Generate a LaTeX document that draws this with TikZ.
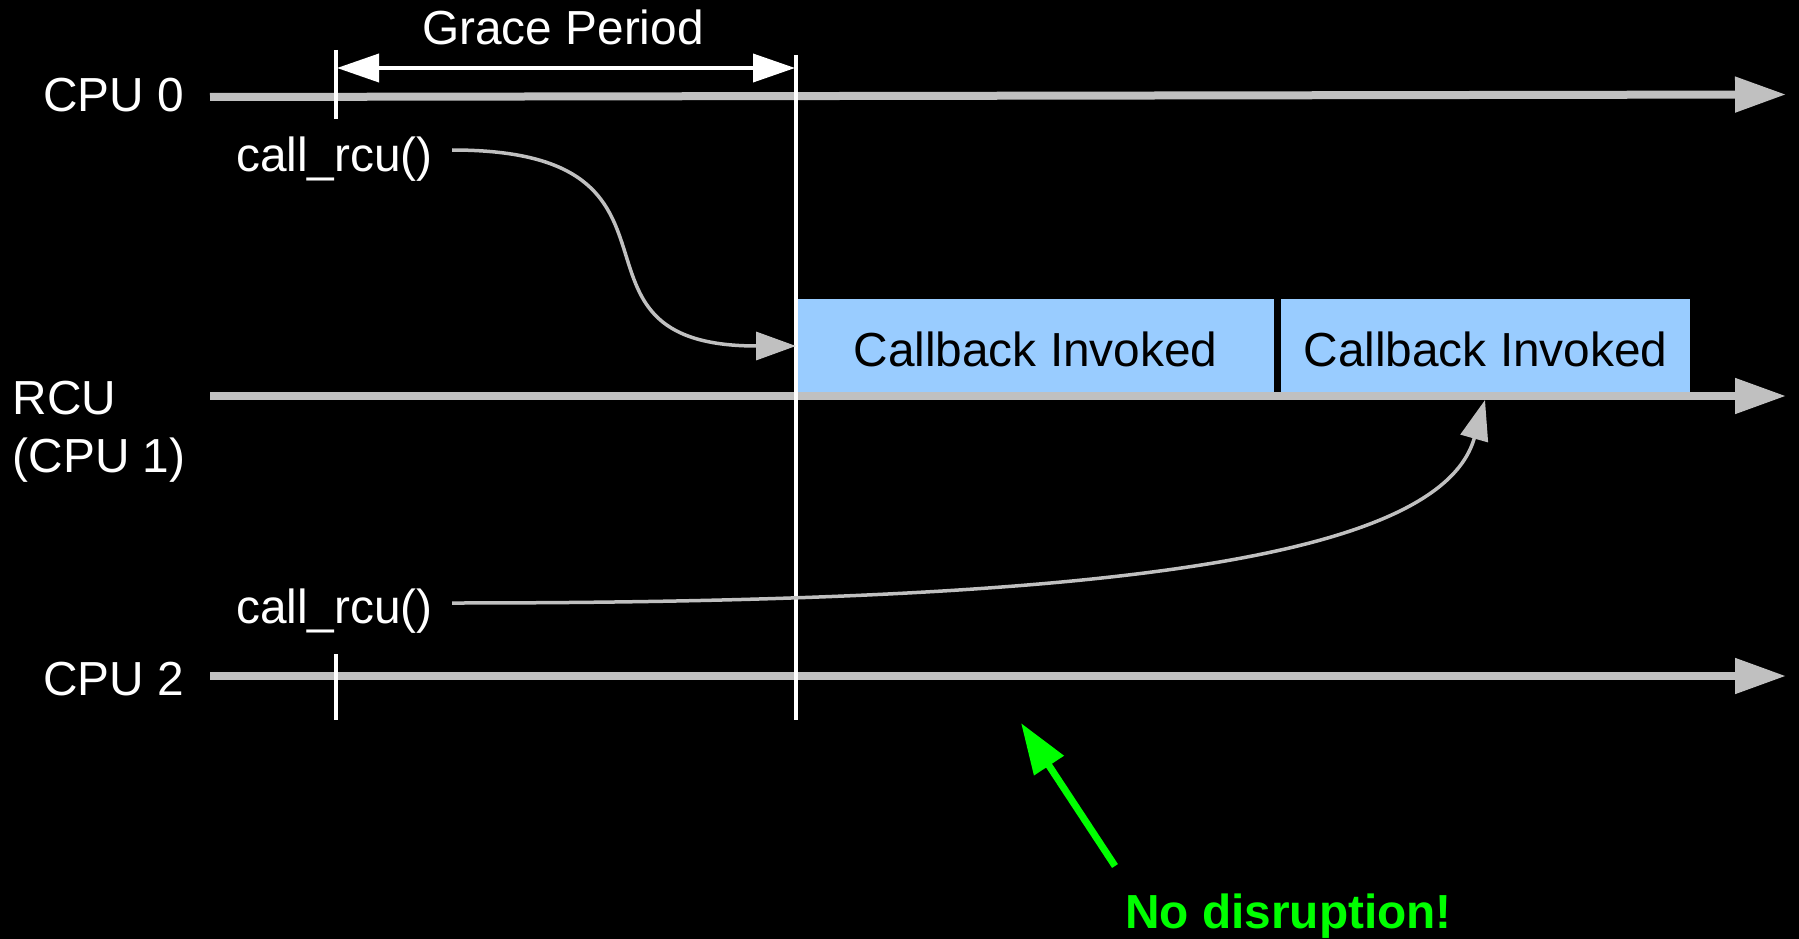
\documentclass[tikz,border=0pt]{standalone}
\usepackage{fontspec}
\setmainfont{Liberation Sans}
\usetikzlibrary{arrows.meta}
\definecolor{tl}{HTML}{C0C0C0}
\definecolor{cbblue}{HTML}{99CCFF}
\definecolor{okgreen}{HTML}{00FF00}
\begin{document}
\begin{tikzpicture}[x=1pt,y=-1pt,
  lbl/.style={inner sep=0pt, text=white, font=\fontsize{47.8}{57}\selectfont},
  timeline/.style={draw=tl, line width=8pt, -{Triangle[length=51pt,width=34pt]}},
  flow/.style={draw=tl, line width=3.5pt, -{Triangle[length=40pt,width=28pt]}},
  vline/.style={draw=white, line width=3.2pt},
  cbbox/.style={fill=cbblue, draw=none, inner sep=0pt, minimum height=97pt},
  gparrow/.style={draw=white, line width=3.8pt, {Triangle[length=42pt,width=28pt]}-{Triangle[length=42pt,width=28pt]}},
  goodarrow/.style={draw=okgreen, line width=7pt, -{Triangle[length=51pt,width=34pt]}}]
\fill[black] (0,0) rectangle (1799,939);
\useasboundingbox (0,0) rectangle (1799,939);

% callback boxes
\node[cbbox, minimum width=477pt] (cb1) at (1035.5,347.5) {};
\node[cbbox, minimum width=409pt] (cb2) at (1485.5,347.5) {};
\node[lbl, text=black, anchor=base] (cb1t) at (1035.5,366.5) {Callback Invoked};
\node[lbl, text=black, anchor=base] (cb2t) at (1485.5,366.5) {Callback Invoked};

% timelines
\coordinate (c0a) at (210,97);
\coordinate (c0b) at (1786,94.5);
\coordinate (r1a) at (210,396);
\coordinate (r1b) at (1786,396);
\coordinate (c2a) at (210,676);
\coordinate (c2b) at (1786,676);
\draw[timeline] (c0a) -- (c0b);
\draw[timeline] (r1a) -- (r1b);
\draw[timeline] (c2a) -- (c2b);

% labels
\node[lbl, anchor=base east] (cpu0) at (184,111.7) {CPU 0};
\node[lbl, anchor=base west] (rcu) at (12.6,414) {RCU};
\node[lbl, anchor=base west] (cpu1) at (12.6,472) {(CPU 1)};
\node[lbl, anchor=base east] (cpu2) at (184,695) {CPU 2};
\node[lbl, anchor=base west] (call0) at (236,171.7) {call\_rcu()};
\node[lbl, anchor=base west] (call2) at (236,623.4) {call\_rcu()};
\node[lbl, anchor=base] (gp) at (563,45) {Grace Period};

% vertical markers
\coordinate (t0a) at (336,50);
\coordinate (t0b) at (336,119);
\coordinate (gea) at (796,55);
\coordinate (geb) at (796,720);
\coordinate (t2a) at (336,654);
\coordinate (t2b) at (336,720);
\draw[vline] (t0a) -- (t0b);
\draw[vline] (gea) -- (geb);
\draw[vline] (t2a) -- (t2b);

% grace period arrow
\coordinate (gaL) at (337,68);
\coordinate (gaR) at (795,68);
\draw[gparrow] (gaL) -- (gaR);

% call_rcu flows
\coordinate (s1) at (452,150);
\coordinate (e1) at (796,346);
\draw[flow] (s1) .. controls (720,150) and (540,346) .. (e1);
\coordinate (s2) at (452,603);
\coordinate (e2) at (1485,400);
\draw[flow] (s2) .. controls (1100,603) and (1440,560) .. (e2);

% no disruption
\coordinate (gtail) at (1115,866);
\coordinate (gtip) at (1021,723);
\draw[goodarrow] (gtail) -- (gtip);
\node[lbl, text=okgreen, font=\fontsize{47.8}{57}\selectfont\bfseries, anchor=base west] (nd) at (1125,928) {No disruption!};
\end{tikzpicture}
\end{document}
